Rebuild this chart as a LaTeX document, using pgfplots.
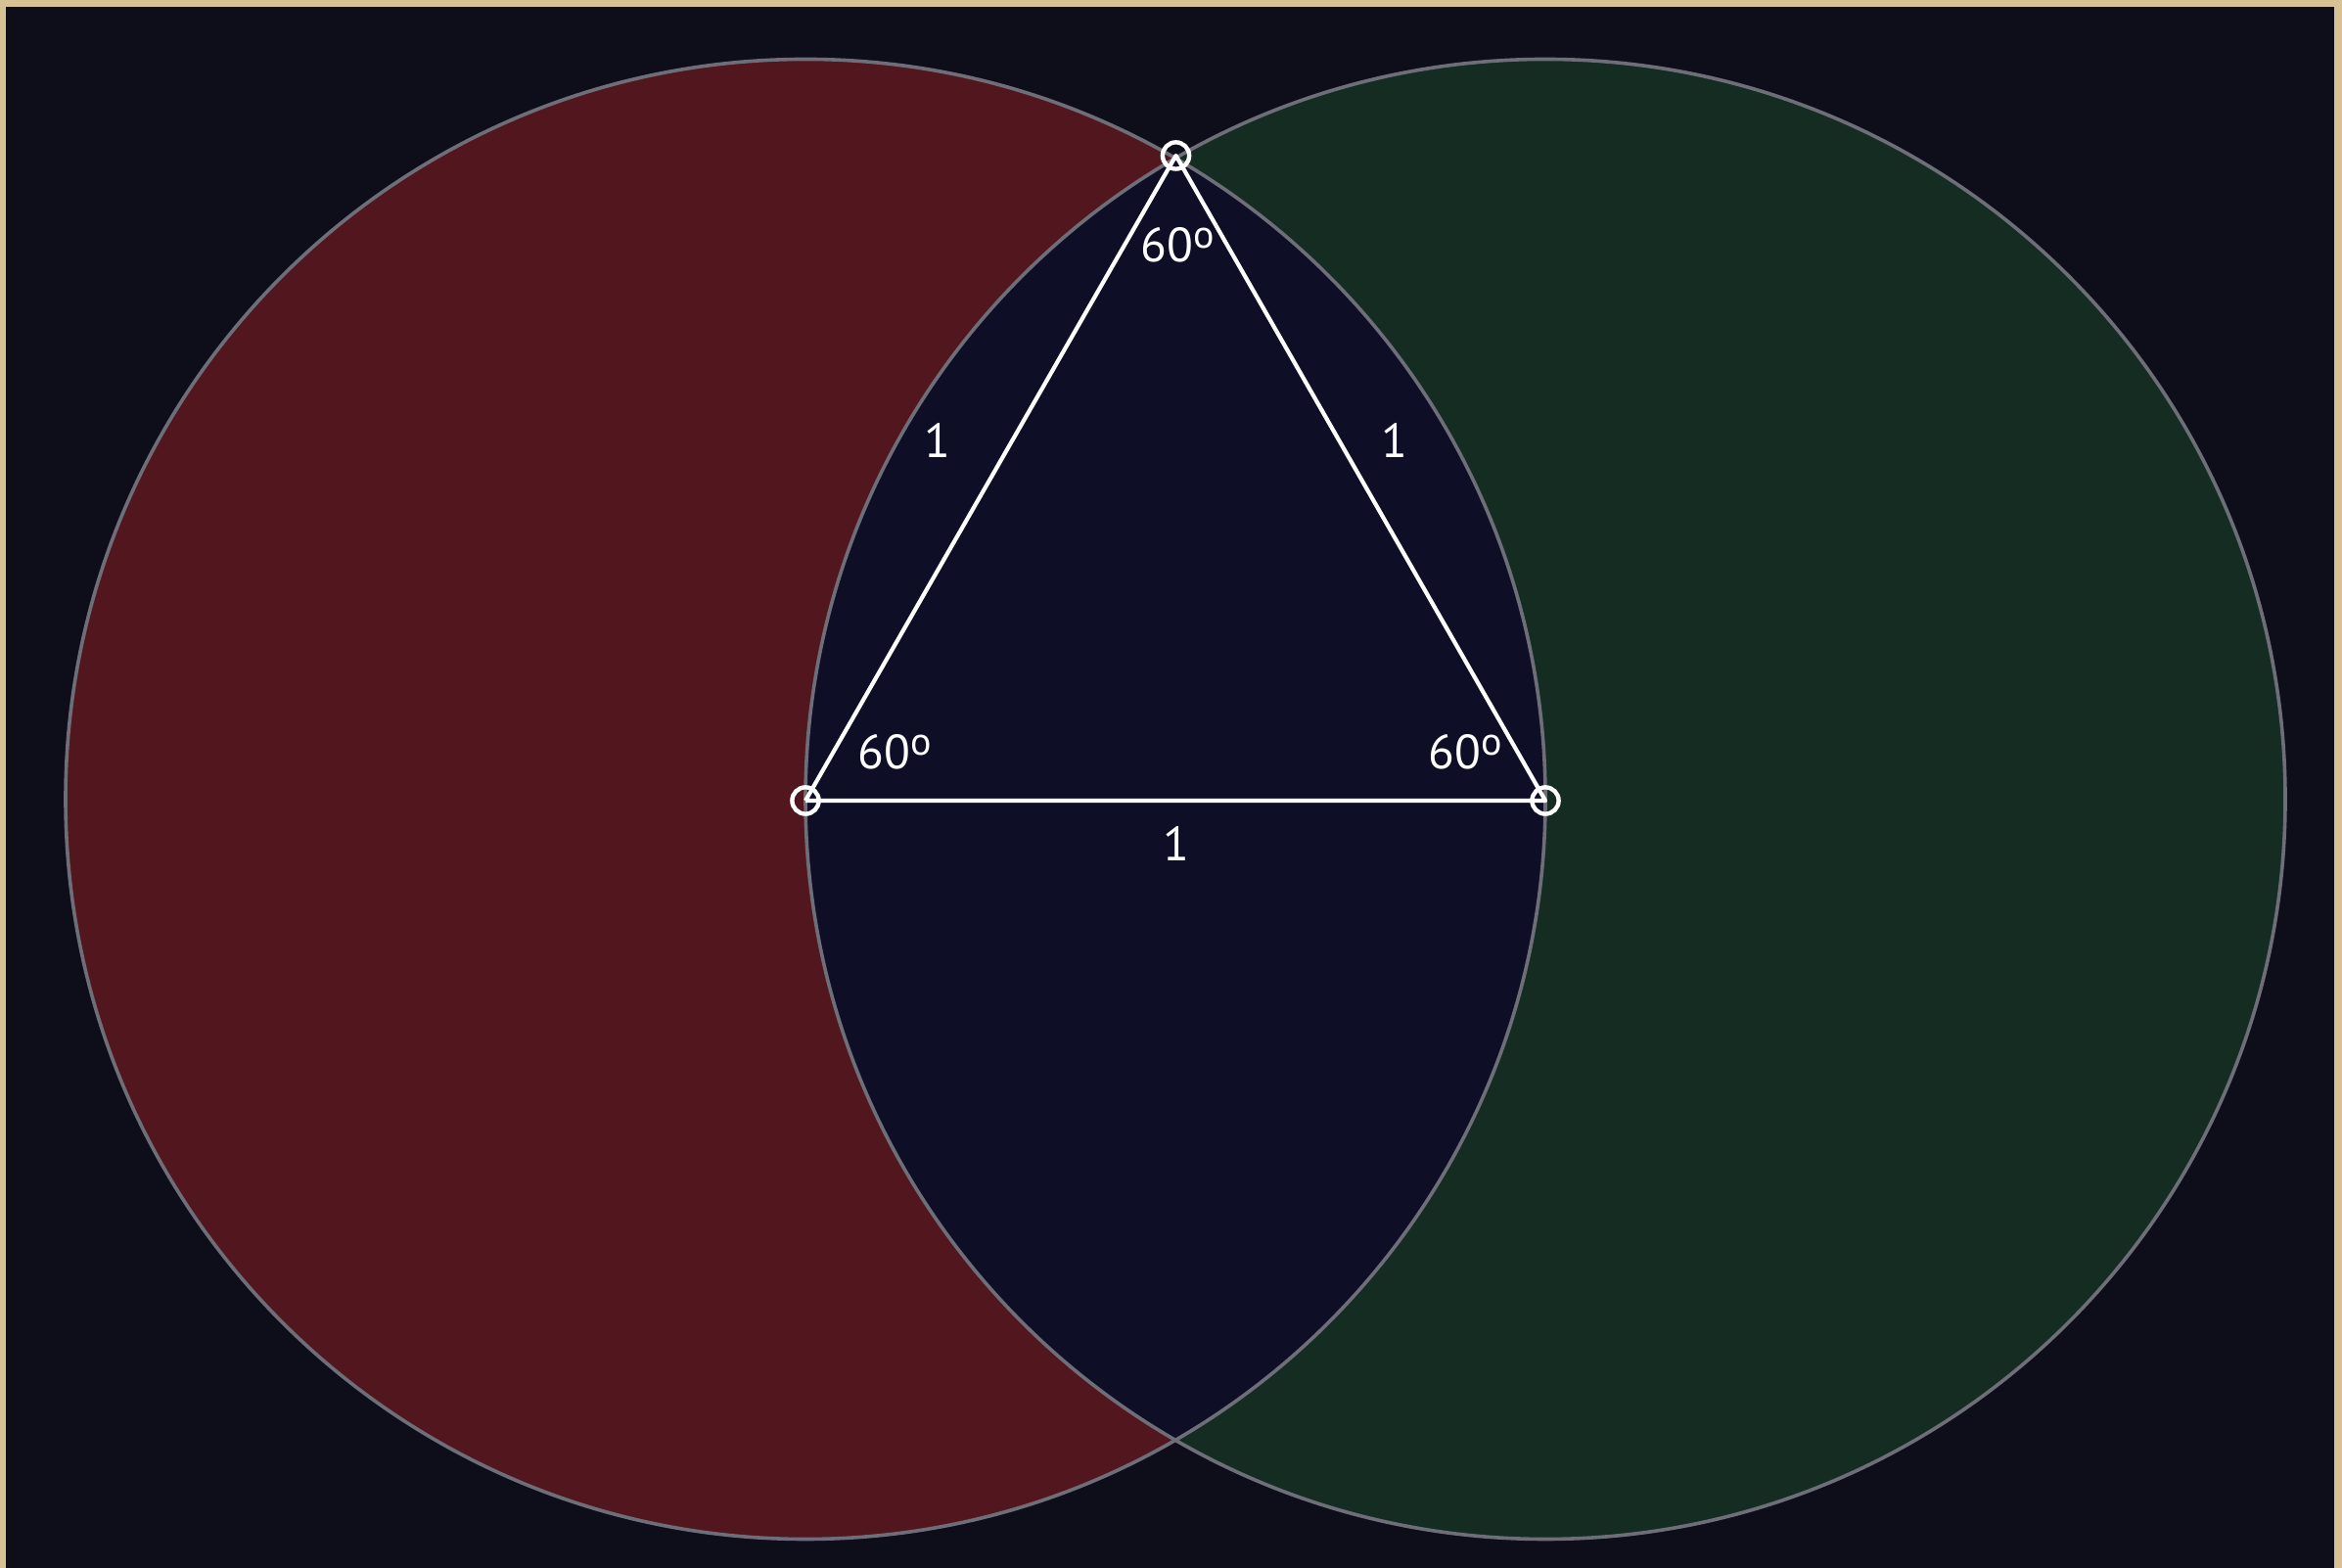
\documentclass[border=0pt]{standalone}
\usepackage{pgfplots}
\pgfplotsset{compat=1.18}
\usepackage{fontspec}
\setmainfont{PT Sans}
\definecolor{frametan}{HTML}{D8C294}
\definecolor{bgdark}{HTML}{0D0E1A}
\definecolor{navy}{HTML}{0E0E26}
\definecolor{redfill}{HTML}{52161F}
\definecolor{greenfill}{HTML}{142C22}
\definecolor{rim}{HTML}{6E6E78}
\newcommand\dg{\raisebox{3.3pt}{\fontsize{10}{10}\selectfont o}}
\begin{document}
\begin{tikzpicture}
\begin{axis}[
  width=598.25pt, height=400.5pt, scale only axis,
  xmin=0, xmax=2393, ymin=0, ymax=1602,
  hide axis, clip=false,
]
% background and frame
\fill[frametan] (axis cs:0,0) rectangle (axis cs:2393,1602);
\fill[bgdark] (axis cs:6,0) rectangle (axis cs:2385,1595);
% circles
\fill[redfill] (axis cs:823,785.5) circle [radius=756];
\fill[greenfill] (axis cs:1579,785.5) circle [radius=756];
\begin{scope}
  \clip (axis cs:823,785.5) circle [radius=756];
  \fill[navy] (axis cs:1579,785.5) circle [radius=756];
\end{scope}
\draw[rim, line width=0.9pt] (axis cs:823,785.5) circle [radius=756];
\draw[rim, line width=0.9pt] (axis cs:1579,785.5) circle [radius=756];
% triangle
\addplot[white, line width=1.05pt, line join=round, no marks]
  coordinates {(823,784) (1579,784) (1201.5,1443) (823,784)};
\addplot[only marks, mark=o, mark size=3.4pt, white, line width=1.1pt]
  coordinates {(823,784) (1579,784) (1201.5,1443)};
% labels
\begin{scope}[every node/.style={text=white, font=\fontsize{12.3}{14}\selectfont, inner sep=0pt}]
\node at (axis cs:958,1152) {1};
\node at (axis cs:1425,1152) {1};
\node at (axis cs:1202,740) {1};
\node at (axis cs:1203,1352) {60\dg};
\node at (axis cs:914,834) {60\dg};
\node at (axis cs:1497,834) {60\dg};
\end{scope}
\end{axis}
\end{tikzpicture}
\end{document}
